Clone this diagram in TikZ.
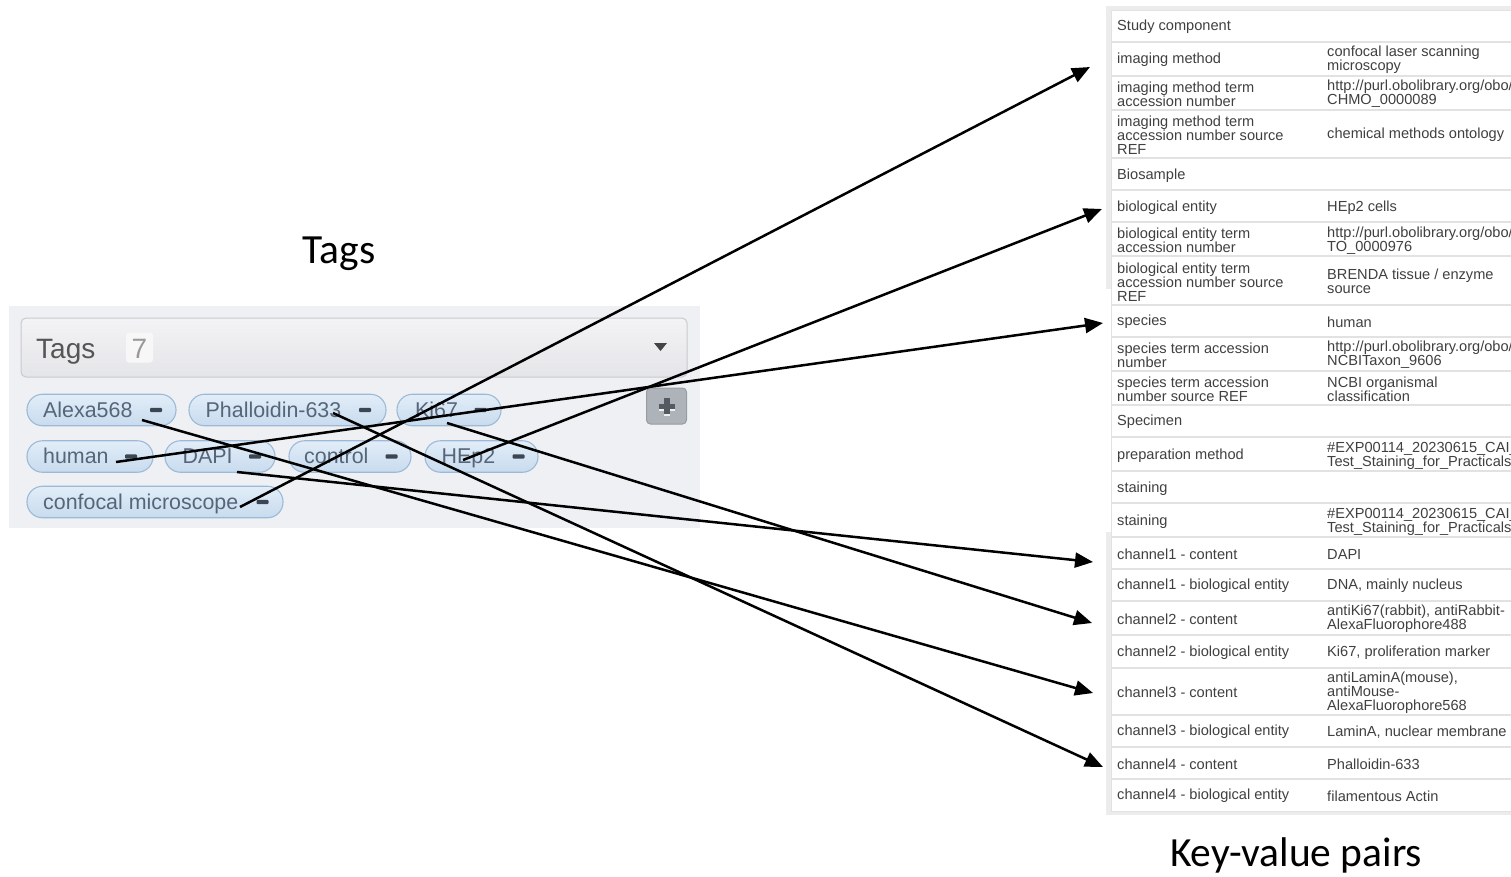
\documentclass[tikz,border=0pt]{standalone}
\usepackage{fontspec}
\setmainfont{Liberation Sans}
\newfontfamily\calibfont{Carlito}
\usetikzlibrary{arrows.meta}
\definecolor{panelbg}{HTML}{EEF0F4}
\definecolor{hdrtop}{HTML}{F3F3F5}
\definecolor{hdrbot}{HTML}{E4E5E8}
\definecolor{hdrline}{HTML}{C9CACE}
\definecolor{hdrtext}{HTML}{555555}
\definecolor{cntbg}{HTML}{F7F7F8}
\definecolor{cnttext}{HTML}{9A9A9A}
\definecolor{pilltop}{HTML}{E2EDF8}
\definecolor{pillbot}{HTML}{C8DBEE}
\definecolor{pillline}{HTML}{9CBAD7}
\definecolor{pilltext}{HTML}{56667A}
\definecolor{minuscol}{HTML}{3B4652}
\definecolor{plusbg}{HTML}{AEB2B9}
\definecolor{plusline}{HTML}{979BA2}
\definecolor{pluscol}{HTML}{555A62}
\definecolor{tblframe}{HTML}{ECECEC}
\definecolor{tblline}{HTML}{E2E2E2}
\definecolor{tbltext}{HTML}{404040}
\newcommand\mkpill[7]{%
  \node[pillbox, minimum width={#3-#2}] (#1) at ({(#2+#3)/2},#4) {};
  \node[pilltxt] (#1t) at (#5,#4+7) {#7};
  \fill[minuscol, rounded corners=1pt] (#6-6,#4-2.2) rectangle (#6+6,#4+2.2);
}
\begin{document}
\begin{tikzpicture}[x=1pt,y=-1pt,
  pillbox/.style={draw=pillline, line width=1.1pt, top color=pilltop, bottom color=pillbot,
    rounded corners=15.5pt, minimum height=31.5pt, inner sep=0pt},
  pilltxt/.style={anchor=base west, inner sep=0pt, text=pilltext, font=\fontsize{21.4}{21}\selectfont},
  keytxt/.style={anchor=west, align=left, inner sep=0pt, text=tbltext, font=\fontsize{14.6}{14}\selectfont},
  rowline/.style={draw=tblline, line width=1.6pt},
  link/.style={draw=black, line width=2.5pt, -{Triangle[length=18pt,width=15pt]}},
  bigtitle/.style={anchor=base, inner sep=0pt, font=\calibfont\fontsize{41.5}{42}\selectfont}]
\useasboundingbox (0,0) rectangle (1511,876);
\fill[white] (0,0) rectangle (1511,876);

% ---- titles
\node[bigtitle] (tagstitle) at (339,263) {Tags};
\node[bigtitle] (kvtitle) at (1296,866) {Key-value pairs};

% ---- tags panel
\fill[panelbg] (9,306) rectangle (700,528);
\draw[draw=hdrline, line width=1pt, top color=hdrtop, bottom color=hdrbot, rounded corners=5pt] (21,318) rectangle (687,377);
\node[anchor=base west, inner sep=0pt, text=hdrtext, font=\fontsize{28}{28}\selectfont] (taghdr) at (36,358) {Tags};
\node[fill=cntbg, rounded corners=3pt, minimum width=27pt, minimum height=30pt, inner sep=0pt] (cntbox) at (139.5,347.5) {};
\node[anchor=base, inner sep=0pt, text=cnttext, font=\fontsize{28}{28}\selectfont] (cnt) at (139.5,358) {7};
\fill[hdrtext!80!black] (654,343) -- (667,343) -- (660.5,351) -- cycle;
% plus button
\node[draw=plusline, line width=1pt, fill=plusbg, rounded corners=4pt, minimum width=40pt, minimum height=36pt, inner sep=0pt] (plusbtn) at (666.5,406) {};
\fill[white!80!plusbg] (658.5,405.5) rectangle (674.5,410.5);
\fill[white!80!plusbg] (663.5,400.5) rectangle (669.5,415.5);
\fill[pluscol] (658.5,403.5) rectangle (674.5,408.5);
\fill[pluscol] (663.5,398) rectangle (669.5,414);

% pills
\mkpill{palexa}{27}{176}{410}{43}{156}{Alexa568}
\mkpill{pphall}{189}{386}{410}{205.5}{365}{Phalloidin-633}
\mkpill{pki}{397}{501}{410}{415}{480.5}{Ki67}
\mkpill{phuman}{27}{153}{456.5}{43}{131}{human}
\mkpill{pdapi}{165}{275}{456.5}{182.5}{255}{DAPI}
\mkpill{pcontrol}{289}{411}{456.5}{304}{391.5}{control}
\mkpill{phep}{425}{538}{456.5}{441.5}{518.5}{HEp2}
\mkpill{pconf}{27}{283}{502}{43}{262.5}{confocal microscope}

% ---- table
\begin{scope}
\clip (1100,0) rectangle (1511,820);
\fill[tblframe] (1106,6) rectangle (1520,815);
\fill[white] (1106,289) rectangle (1111,532);
\draw[draw=tblline, line width=1pt, fill=white] (1111,10) rectangle (1530,811);
\foreach \yy in {42,76,110,158,190,222,256,305,337,371,405,437,471,503,537,569,601,635,668,715,747,779}
  \draw[rowline] (1111,\yy) -- (1530,\yy);

\node[keytxt] (k1) at (1117,27) {Study component};
\node[keytxt] (k2) at (1117,60) {imaging method};
\node[keytxt] (v2) at (1327,60) {confocal laser scanning\\microscopy};
\node[keytxt] (k3) at (1117,94) {imaging method term\\accession number};
\node[keytxt] (v3) at (1327,94) {http://purl.obolibrary.org/obo/\\CHMO\_0000089};
\node[keytxt] (k4) at (1117,135) {imaging method term\\accession number source\\REF};
\node[keytxt] (v4) at (1327,135) {chemical methods ontology};
\node[keytxt] (k5) at (1117,175.5) {Biosample};
\node[keytxt] (k6) at (1117,207.5) {biological entity};
\node[keytxt] (v6) at (1327,207.5) {HEp2 cells};
\node[keytxt] (k7) at (1117,240.5) {biological entity term\\accession number};
\node[keytxt] (v7) at (1327,240.5) {http://purl.obolibrary.org/obo/\\TO\_0000976};
\node[keytxt] (k8) at (1117,282) {biological entity term\\accession number source\\REF};
\node[keytxt] (v8) at (1327,281) {BRENDA tissue / enzyme\\source};
\node[keytxt] (k9) at (1117,322) {species};
\node[keytxt] (v9) at (1327,322) {human};
\node[keytxt] (k10) at (1117,355) {species term accession\\number};
\node[keytxt] (v10) at (1327,355) {http://purl.obolibrary.org/obo/\\NCBITaxon\_9606};
\node[keytxt] (k11) at (1117,389) {species term accession\\number source REF};
\node[keytxt] (v11) at (1327,389) {NCBI organismal\\classification};
\node[keytxt] (k12) at (1117,422) {Specimen};
\node[keytxt] (k13) at (1117,455.5) {preparation method};
\node[keytxt] (v13) at (1327,455.5) {\#EXP00114\_20230615\_CAI\_\\Test\_Staining\_for\_Practicals};
\node[keytxt] (k14) at (1117,488.5) {staining};
\node[keytxt] (k15) at (1117,521.5) {staining};
\node[keytxt] (v15) at (1327,521.5) {\#EXP00114\_20230615\_CAI\_\\Test\_Staining\_for\_Practicals};
\node[keytxt] (k16) at (1117,554) {channel1 - content};
\node[keytxt] (v16) at (1327,554) {DAPI};
\node[keytxt] (k17) at (1117,586) {channel1 - biological entity};
\node[keytxt] (v17) at (1327,586) {DNA, mainly nucleus};
\node[keytxt] (k18) at (1117,619) {channel2 - content};
\node[keytxt] (v18) at (1327,619) {antiKi67(rabbit), antiRabbit-\\AlexaFluorophore488};
\node[keytxt] (k19) at (1117,652.5) {channel2 - biological entity};
\node[keytxt] (v19) at (1327,652.5) {Ki67, proliferation marker};
\node[keytxt] (k20) at (1117,692.5) {channel3 - content};
\node[keytxt] (v20) at (1327,692.5) {antiLaminA(mouse),\\antiMouse-\\AlexaFluorophore568};
\node[keytxt] (k21) at (1117,732) {channel3 - biological entity};
\node[keytxt] (v21) at (1327,732) {LaminA, nuclear membrane};
\node[keytxt] (k22) at (1117,764) {channel4 - content};
\node[keytxt] (v22) at (1327,764) {Phalloidin-633};
\node[keytxt] (k23) at (1117,796) {channel4 - biological entity};
\node[keytxt] (v23) at (1327,796) {filamentous Actin};
\end{scope}

% ---- connectors
\coordinate (sconf) at (240,507);
\coordinate (shep) at (463,460);
\coordinate (shuman) at (116,462);
\coordinate (sdapi) at (237,472);
\coordinate (ski) at (447,423);
\coordinate (salexa) at (142,420);
\coordinate (sphall) at (333,413);
\coordinate (timg) at (1090,67);
\coordinate (tbio) at (1102,209);
\coordinate (tspec) at (1103,323);
\coordinate (tch1) at (1093,562);
\coordinate (tch2) at (1092,623);
\coordinate (tch3) at (1093,693);
\coordinate (tch4) at (1103,767);
\draw[link] (sconf) -- (timg);
\draw[link] (shep) -- (tbio);
\draw[link] (shuman) -- (tspec);
\draw[link] (sdapi) -- (tch1);
\draw[link] (ski) -- (tch2);
\draw[link] (salexa) -- (tch3);
\draw[link] (sphall) -- (tch4);
\end{tikzpicture}
\end{document}
